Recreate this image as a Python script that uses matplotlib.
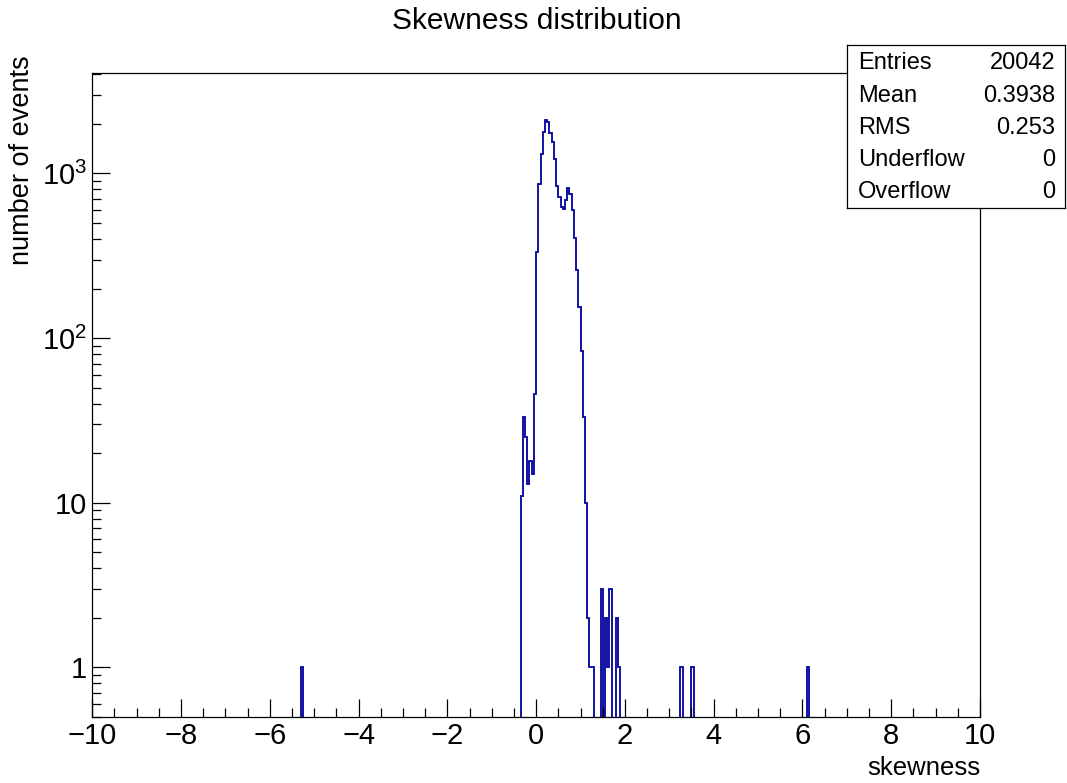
import numpy as np
import matplotlib
matplotlib.use("Agg")
import matplotlib.pyplot as plt
from matplotlib.ticker import MultipleLocator, LogLocator, FuncFormatter, NullFormatter

plt.rcParams['font.family'] = ['Liberation Sans', 'DejaVu Sans']
plt.rcParams['mathtext.fontset'] = 'custom'
plt.rcParams['mathtext.rm'] = 'Liberation Sans'
plt.rcParams['mathtext.it'] = 'Liberation Sans'

# ---- data (bin lower edges, width 0.05, and counts) ----
bin_low = [-5.30, -0.35, -0.30, -0.25, -0.20, -0.15, -0.10, -0.05,
           0.00, 0.05, 0.10, 0.15, 0.20, 0.25, 0.30, 0.35, 0.40, 0.45,
           0.50, 0.55, 0.60, 0.65, 0.70, 0.75, 0.80, 0.85, 0.90, 0.95,
           1.00, 1.05, 1.10, 1.15, 1.20, 1.25, 1.45, 1.55, 1.60, 1.65,
           1.80, 1.85, 3.25, 3.50, 6.10]
counts = [1, 11, 33, 25, 13, 18, 15, 46,
          335, 860, 1309, 1795, 2115, 2055, 1755, 1560, 1220, 839,
          717, 628, 611, 690, 813, 748, 600, 404, 259, 154,
          83, 33, 10, 2, 1, 1, 3, 2, 1, 3,
          2, 1, 1, 1, 1]
n_bins = 400
x_range = (-10, 10)
stat_names = ["Entries", "Mean", "RMS", "Underflow", "Overflow"]
stat_values = ["20042", "0.3938", "0.253", "0", "0"]

W, H = 1067, 783
fig = plt.figure(figsize=(W / 100, H / 100), dpi=100)
ax = fig.add_axes([92.3 / W, 1 - 716.7 / H, (980 - 92.3) / W, (716.7 - 73) / H])

edges = np.linspace(x_range[0], x_range[1], n_bins + 1)
centers = np.array(bin_low) + 0.025
hist, _ = np.histogram(centers, bins=edges, weights=counts)
plot_vals = np.where(hist > 0, hist, 1e-3)
ax.stairs(plot_vals, edges, color='#00009e', linewidth=1.3, baseline=1e-3)

ax.set_yscale('log')
ax.set_ylim(0.5, 4080)
ax.set_xlim(*x_range)

ax.xaxis.set_major_locator(MultipleLocator(2))
ax.xaxis.set_minor_locator(MultipleLocator(0.5))
ax.yaxis.set_major_locator(LogLocator(base=10, numticks=10))
ax.yaxis.set_minor_locator(LogLocator(base=10, subs=np.arange(2, 10), numticks=20))
ax.yaxis.set_minor_formatter(NullFormatter())

def yfmt(v, pos):
    e = int(round(np.log10(v)))
    if e == 0:
        return "1"
    if e == 1:
        return "10"
    return r"$10^{%d}$" % e

ax.yaxis.set_major_formatter(FuncFormatter(yfmt))
ax.tick_params(which='both', direction='in', top=False, right=False, width=0.9, color='black')
ax.tick_params(which='major', length=13, labelsize=21, pad=4)
ax.tick_params(which='minor', length=6.5)
ax.tick_params(axis='y', which='major', pad=4)
for s in ax.spines.values():
    s.set_linewidth(0.9)

fig.text(537 / W, 1 - 21 / H, "Skewness distribution", ha='center', va='center', fontsize=21.5)
fig.text(22 / W, 1 - 55 / H, "number of events", rotation=90, ha='center', va='top', fontsize=19.5)
fig.text(980 / W, 1 - 768 / H, "skewness", ha='right', va='center', fontsize=18.5)

# stats box
bx0, bx1, by0, by1 = 847, 1065, 45, 208
sax = fig.add_axes([bx0 / W, 1 - by1 / H, (bx1 - bx0) / W, (by1 - by0) / H])
sax.set_xticks([])
sax.set_yticks([])
sax.set_facecolor('white')
for s in sax.spines.values():
    s.set_linewidth(0.9)
row_y = [0.89, 0.69, 0.493, 0.295, 0.098]
for name, val, yy in zip(stat_names, stat_values, row_y):
    sax.text(0.05, yy, name, ha='left', va='center', fontsize=17, transform=sax.transAxes)
    sax.text(0.955, yy, val, ha='right', va='center', fontsize=17, transform=sax.transAxes)

fig.savefig("out.png", dpi=100)
